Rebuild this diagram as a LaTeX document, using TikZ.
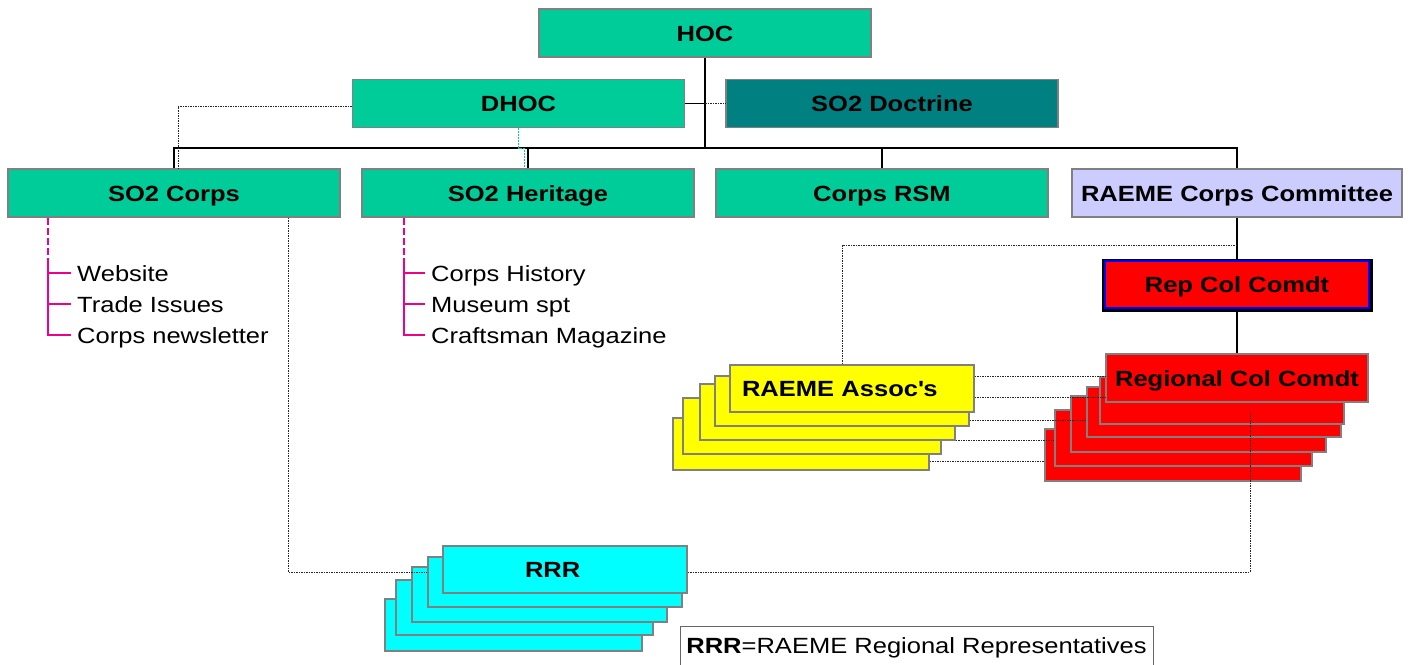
\documentclass[tikz,border=0pt]{standalone}
\usepackage{fontspec}
\setmainfont{Liberation Sans}[FakeStretch=1.16]
\usetikzlibrary{positioning}

\definecolor{hocgreen}{HTML}{00CC99}
\definecolor{doctrine}{HTML}{008080}
\definecolor{committee}{HTML}{CCCCFF}
\definecolor{rrrcyan}{HTML}{00FFFF}
\definecolor{assocyellow}{HTML}{FFFF00}

\begin{document}
\begin{tikzpicture}[x=1pt, y=-1pt,
        card/.style={draw=black!50, line width=1.5pt, inner sep=0pt,
            font=\fontsize{22}{26}\selectfont\bfseries, text height=16pt, text depth=0pt},
        unit/.style={card, minimum width=332pt, minimum height=48pt},
        item/.style={anchor=west, inner xsep=6pt, inner ysep=0pt,
            font=\fontsize{22}{26}\selectfont, text height=16pt, text depth=0pt},
        link/.style={line width=1.3pt},
        dotline/.style={line width=1pt, black!85, dash pattern=on 1.5pt off 1pt},
        tealdot/.style={line width=0.9pt, hocgreen, dash pattern=on 2pt off 1pt},
        mag/.style={line width=1.3pt, magenta},
        magdash/.style={mag, dash pattern=on 7pt off 3pt}]
    \useasboundingbox (0,0) rectangle (1410,664);

    \node[unit, fill=hocgreen] (hoc) at (705,33) {HOC};
    \node[unit, fill=hocgreen] (dhoc) at (518.5,103.5) {DHOC};
    \node[unit, fill=doctrine] (doct) at (892,103.5) {SO2 Doctrine};
    \node[unit, fill=hocgreen] (corps) at (174,193) {SO2 Corps};
    \node[unit, fill=hocgreen] (herit) at (528,193) {SO2 Heritage};
    \node[unit, fill=hocgreen] (rsm) at (882,193) {Corps RSM};
    \node[unit, fill=committee, minimum width=330pt] (cttee) at (1237,193) {RAEME Corps Committee};

    \node[item] (web) at (71,273) {Website};
    \node[item] (trade) at (71,304) {Trade Issues};
    \node[item] (news) at (71,335) {Corps newsletter};
    \node[item] (hist) at (425,273) {Corps History};
    \node[item] (museum) at (425,304) {Museum spt};
    \node[item] (craft) at (425,335) {Craftsman Magazine};

    \node[fill=black, minimum width=271pt, minimum height=53pt, inner sep=0pt] (repsh) at (1237.5,285.5) {};
    \node[card, fill=red, draw=blue, minimum width=264pt, minimum height=47pt] (rep) at (1237,284.5) {Rep Col Comdt};

    \foreach \n/\xa/\ya/\xb/\yb in {6/1045/429/1301/481, 5/1055/410/1312/466, 4/1071/396/1326/452,
                                    3/1087/387/1341/437, 2/1100/377/1344/424}
        \node[card, fill=red, minimum width={(\xb-\xa)*1pt}, minimum height={(\yb-\ya)*1pt}]
            (rc\n) at ({(\xa+\xb)/2},{(\ya+\yb)/2}) {};
    \node[card, fill=red, minimum width=262pt, minimum height=48pt] (rc1) at (1237,378) {Regional Col Comdt};

    \foreach \n/\xa/\ya/\xb/\yb in {5/673/418/929/470, 4/683/398/941/454, 3/700/384/955/440, 2/715/376/969/426}
        \node[card, fill=assocyellow, minimum width={(\xb-\xa)*1pt}, minimum height={(\yb-\ya)*1pt}]
            (ya\n) at ({(\xa+\xb)/2},{(\ya+\yb)/2}) {};
    \node[card, fill=assocyellow, minimum height=47pt, text width=220pt, inner xsep=12pt, align=left]
        (ya1) at (852,388.5) {RAEME Assoc\textquotesingle s};

    \foreach \n/\xa/\ya/\xb/\yb in {5/385/599/642/651, 4/396/580/653/635, 3/412/567/667/622, 2/428/557/682/607}
        \node[card, fill=rrrcyan, minimum width={(\xb-\xa)*1pt}, minimum height={(\yb-\ya)*1pt}]
            (r\n) at ({(\xa+\xb)/2},{(\ya+\yb)/2}) {};
    \node[card, fill=rrrcyan, minimum height=47pt, text width=80pt, inner xsep=82pt, align=left]
        (r1) at (565,569.5) {RRR};

    \node[draw=black!60, line width=1pt, anchor=north, minimum width=473pt, inner xsep=0pt, inner ysep=4pt,
        text height=23pt, text depth=20pt, font=\fontsize{22}{26}\selectfont]
        (legend) at (916.5,626) {\textbf{RRR}=RAEME Regional Representatives};

    \coordinate (bus) at (705,148);
    \coordinate (hjog) at (524,148);
    \coordinate (cjoin) at (1237,245);
    \coordinate (rcdrop) at (1250,412);

    \draw[link] (hoc) -- (bus);
    \draw[link] (corps.north) |- (bus) -| (cttee.north);
    \draw[link] (herit.north) -- (herit.north |- bus);
    \draw[link] (rsm.north) -- (rsm.north |- bus);
    \draw[link] (dhoc.east) -- (dhoc.east -| bus);
    \draw[dotline] (dhoc.east -| bus) -- (doct.west);
    \draw[dotline] ([yshift=-3pt]dhoc.west) -| ([xshift=4pt]corps.north);
    \draw[tealdot] (dhoc.south) |- (hjog) -- (hjog |- herit.north);

    \draw[link] (cttee.south) -- (rep.north);
    \draw[link] (rep.south) -- (rc1.north);
    \draw[dotline] (cjoin) -| ([xshift=-10pt]ya1.north);

    \foreach \a/\b/\yy in {ya1/rc1/376, ya1/rc1/397, ya2/rc3/420, ya3/rc5/440, ya5/rc6/461}
        \draw[dotline] (\a.east |- 0,\yy) -- (\b.west |- 0,\yy);

    \draw[dotline] ([yshift=-2.5pt]r1.east) -| (rcdrop);
    \draw[dotline] ([xshift=114pt]corps.south) |- (r2.west |- 0,572);

    \draw[magdash] ([xshift=-126pt]corps.south) -- ++(0,46) coordinate (cspine);
    \draw[mag] (cspine) |- (news.west);
    \foreach \t in {web,trade}
        \draw[mag] (cspine |- \t.west) -- (\t.west);
    \draw[magdash] ([xshift=-124pt]herit.south) -- ++(0,46) coordinate (hspine);
    \draw[mag] (hspine) |- (craft.west);
    \foreach \t in {hist,museum}
        \draw[mag] (hspine |- \t.west) -- (\t.west);
\end{tikzpicture}
\end{document}
